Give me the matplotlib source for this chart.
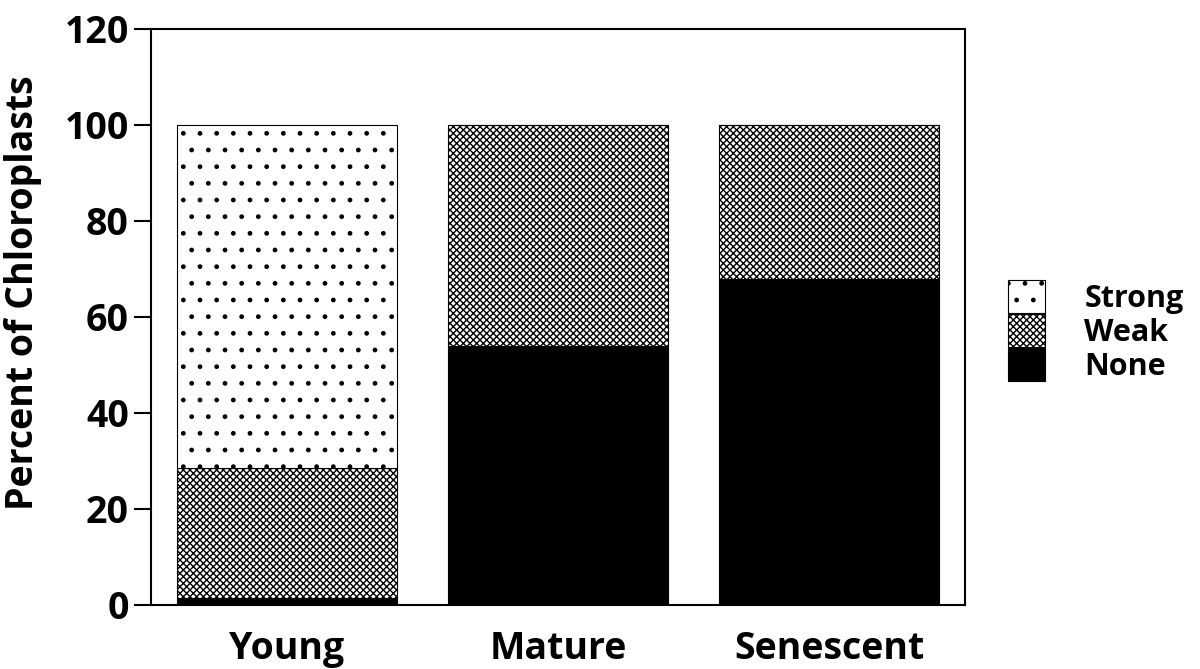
import matplotlib
matplotlib.use("Agg")
import matplotlib.pyplot as plt
import numpy as np

categories = ["Young", "Mature", "Senescent"]
none_pct = [1.5, 54, 68]
weak_pct = [27, 46, 32]
strong_pct = [71.5, 0, 0]
yticks = [0, 20, 40, 60, 80, 100, 120]

plt.rcParams['font.family'] = ['Open Sans', 'DejaVu Sans']
plt.rcParams['font.weight'] = 'bold'
plt.rcParams['hatch.linewidth'] = 1.0

fig = plt.figure(figsize=(12, 6.69), dpi=100)
ax = fig.add_axes([0.126, 0.0957, 0.678, 0.861])

x = np.arange(len(categories))
w = 0.81
none = np.array(none_pct)
weak = np.array(weak_pct)
strong = np.array(strong_pct)

b_none = ax.bar(x, none, w, color='black', edgecolor='black', linewidth=0.8, label='None')
b_weak = ax.bar(x, weak, w, bottom=none, color='white', edgecolor='black',
                hatch='xxxxx', linewidth=0.8, label='Weak')
b_strong = ax.bar(x, strong, w, bottom=none + weak, color='white', edgecolor='black',
                  hatch='.', linewidth=0.8, label='Strong')

ax.set_xlim(-0.5, 2.5)
ax.set_ylim(0, 120)
ax.set_yticks(yticks)
ax.set_xticks(x)
ax.set_xticklabels(categories, fontsize=27, fontweight='bold')
ax.tick_params(axis='y', direction='out', length=12, width=1.5, labelsize=27, pad=4)
ax.tick_params(axis='x', length=0, pad=18)
for lbl in ax.get_yticklabels():
    lbl.set_fontweight('bold')
for s in ax.spines.values():
    s.set_linewidth(1.5)

ax.set_ylabel("Percent of Chloroplasts", fontsize=27, fontweight='bold')
ax.yaxis.set_label_coords(-0.134, 0.543)

leg = ax.legend(handles=[b_strong, b_weak, b_none], loc='center left',
                bbox_to_anchor=(1.053, 0.476), frameon=False,
                prop={'weight': 'bold', 'size': 22},
                handlelength=1.2, handleheight=1.3, labelspacing=0.0,
                handletextpad=1.3, borderpad=0, borderaxespad=0)

fig.savefig("out.png", dpi=100)
